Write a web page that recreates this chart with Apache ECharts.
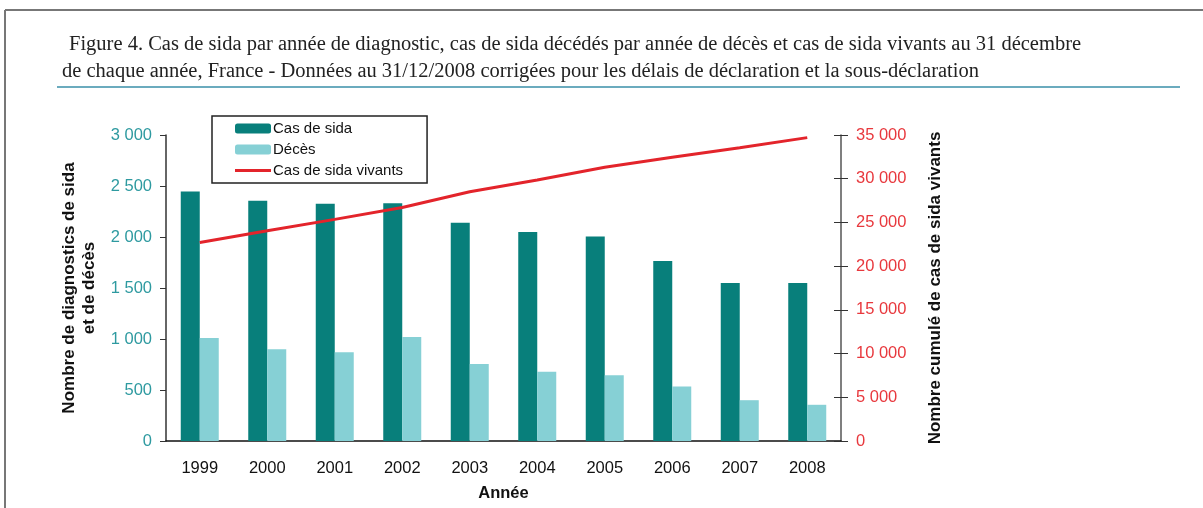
<html>
<head>
    <meta charset="utf-8">
    <script src="https://cdn.jsdelivr.net/npm/echarts@6/dist/echarts.min.js"></script>
</head>
<body style="margin:0; background:#fff">
    <div id="main" style="width:1203px; height:508px"></div>
<script type="text/javascript">
    var annees = ['1999', '2000', '2001', '2002', '2003', '2004', '2005', '2006', '2007', '2008'];
    var casSida = [2445, 2355, 2325, 2330, 2140, 2050, 2005, 1765, 1550, 1550];
    var deces = [1010, 900, 870, 1020, 755, 680, 645, 535, 400, 355];
    var vivants = [22700, 24050, 25350, 26700, 28500, 29850, 31300, 32450, 33550, 34700];

    var myChart = echarts.init(document.getElementById('main'));

    function espace(v) {
        return String(v).replace(/\B(?=(\d{3})+(?!\d))/g, ' ');
    }

    var option = {
        backgroundColor: '#fff',
        animation: false,
        textStyle: { fontFamily: 'Liberation Sans' },
        title: [{
            text: 'Figure 4. Cas de sida par année de diagnostic, cas de sida décédés par année de décès et cas de sida vivants au 31 décembre',
            left: 64, top: 29,
            textStyle: { fontFamily: 'Liberation Serif', fontSize: 20.5, fontWeight: 'normal', color: '#222' }
        }, {
            text: 'de chaque année, France - Données au 31/12/2008 corrigées pour les délais de déclaration et la sous-déclaration',
            left: 57, top: 56,
            textStyle: { fontFamily: 'Liberation Serif', fontSize: 20.5, fontWeight: 'normal', color: '#222' }
        }],
        graphic: [
            { type: 'line', shape: { x1: 5, y1: 10, x2: 1203, y2: 10 }, style: { stroke: '#777', lineWidth: 2 } },
            { type: 'line', shape: { x1: 5, y1: 10, x2: 5, y2: 508 }, style: { stroke: '#777', lineWidth: 2 } },
            { type: 'line', shape: { x1: 57, y1: 87, x2: 1180, y2: 87 }, style: { stroke: '#3a8fa8', lineWidth: 1.5 } }
        ],
        legend: {
            orient: 'vertical',
            left: 212, top: 116,
            padding: [5, 24, 5, 23],
            itemGap: 6,
            itemWidth: 36, itemHeight: 10,
            borderColor: '#222', borderWidth: 1.5,
            textStyle: { fontSize: 15, color: '#111', lineHeight: 15, padding: [0, 0, 0, -3] },
            data: ['Cas de sida', 'Décès', {
                name: 'Cas de sida vivants',
                icon: 'path://M0,0 L36,0 L36,3 L0,3 Z'
            }]
        },
        grid: { left: 166, right: 362, top: 135, bottom: 67 },
        xAxis: {
            type: 'category',
            data: annees,
            name: 'Année',
            nameLocation: 'middle',
            nameGap: 44,
            nameTextStyle: { fontSize: 16.5, fontWeight: 'bold', color: '#111' },
            axisLine: { lineStyle: { color: '#111', width: 1.5 } },
            axisTick: { length: 6, lineStyle: { color: '#111' } },
            axisLabel: { fontSize: 16.5, color: '#111', margin: 19 }
        },
        yAxis: [{
            type: 'value',
            min: 0, max: 3000, interval: 500,
            name: 'Nombre de diagnostics de sida\net de décès',
            nameLocation: 'middle',
            nameRotate: 90,
            nameGap: 60,
            nameTextStyle: { fontSize: 17, fontWeight: 'bold', color: '#111', lineHeight: 20 },
            axisLine: { show: true, lineStyle: { color: '#333', width: 1.5 } },
            axisTick: { show: true, length: 6, lineStyle: { color: '#333' } },
            axisLabel: { fontSize: 16.5, color: '#2e9aa0', margin: 14, formatter: espace },
            splitLine: { show: false }
        }, {
            type: 'value',
            position: 'right',
            min: 0, max: 35000, interval: 5000,
            name: 'Nombre cumulé de cas de sida vivants',
            nameLocation: 'middle',
            nameRotate: 90,
            nameGap: 86,
            nameTextStyle: { fontSize: 17, fontWeight: 'bold', color: '#111' },
            axisLine: { show: true, lineStyle: { color: '#555', width: 1.5 } },
            axisTick: { show: true, length: 7, lineStyle: { color: '#333' } },
            axisLabel: { fontSize: 16.5, color: '#e8383d', margin: 15, formatter: espace },
            splitLine: { show: false }
        }, {
            type: 'value',
            position: 'right',
            min: 0, max: 35000, interval: 5000,
            axisLine: { show: false },
            axisTick: { show: true, inside: true, length: 7, lineStyle: { color: '#333' } },
            axisLabel: { show: false },
            splitLine: { show: false }
        }],
        series: [{
            name: 'Cas de sida',
            type: 'bar',
            data: casSida,
            barWidth: 19,
            barGap: '0%',
            itemStyle: { color: '#087f7b' }
        }, {
            name: 'Décès',
            type: 'bar',
            data: deces,
            barWidth: 19,
            barGap: '0%',
            itemStyle: { color: '#86d0d5' }
        }, {
            name: 'Cas de sida vivants',
            type: 'line',
            yAxisIndex: 1,
            data: vivants,
            symbol: 'none',
            lineStyle: { color: '#e3242b', width: 3 },
            itemStyle: { color: '#e3242b' }
        }]
    };

    myChart.setOption(option);
</script>
</body>
</html>
